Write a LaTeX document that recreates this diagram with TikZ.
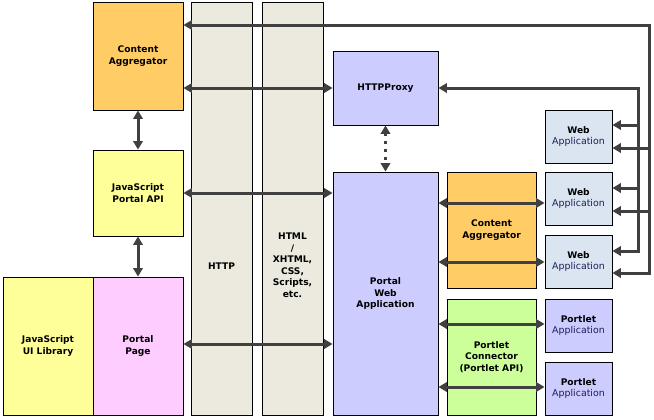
\documentclass[tikz,border=0pt]{standalone}
\usepackage{fontspec}
\setmainfont{DejaVu Sans}
\usetikzlibrary{arrows.meta}
\definecolor{caor}{HTML}{FFCC66}
\definecolor{jsyel}{HTML}{FFFF99}
\definecolor{pgpink}{HTML}{FFCCFF}
\definecolor{colbg}{HTML}{ECE9DF}
\definecolor{lav}{HTML}{CCCCFF}
\definecolor{webbg}{HTML}{DBE5F1}
\definecolor{pcgreen}{HTML}{CCFF99}
\definecolor{arrowgray}{HTML}{404040}
\definecolor{appblue}{HTML}{1E1E5A}
\newcommand{\appfont}{\fontsize{9.4bp}{11.5bp}\selectfont\mdseries\color{appblue}}
\begin{document}
\begin{tikzpicture}[x=1bp,y=-1bp,
  box/.style={draw=black, line width=0.9bp, inner sep=0pt, align=center,
    font=\fontsize{9.1bp}{11.8bp}\selectfont\bfseries},
  lbl/.style={inner sep=0pt, align=center, font=\fontsize{9.1bp}{11.5bp}\selectfont\bfseries},
  conn/.style={draw=arrowgray, line width=3bp},
  tip/.style={-{Triangle[length=8.5bp,width=9.5bp]}},
  both/.style={{Triangle[length=8.5bp,width=9.5bp]}-{Triangle[length=8.5bp,width=9.5bp]}},
  dots/.style={dash pattern=on 3bp off 5bp},
  app/.style={box, fill=webbg, minimum width=67bp, minimum height=53bp},
  papp/.style={box, fill=lav, minimum width=67bp, minimum height=53bp},
]
\useasboundingbox (0,0) rectangle (654,419);

% columns
\node[box, fill=colbg, minimum width=61bp, minimum height=413bp] (http) at (221.5,208.5) {};
\node[box, fill=colbg, minimum width=61bp, minimum height=413bp] (html) at (292.5,208.5) {};
\node[lbl] (httplbl) at (221.5,266) {HTTP};
\node[lbl] (htmllbl) at (292.5,265) {HTML\\/\\XHTML,\\CSS,\\Scripts,\\etc.};

% left boxes
\node[box, fill=caor, minimum width=90bp, minimum height=108bp] (ca1) at (138,56) {Content\\Aggregator};
\node[box, fill=jsyel, minimum width=90bp, minimum height=86bp] (jsapi) at (138,193) {JavaScript\\Portal API};
\node[box, fill=jsyel, minimum width=90bp, minimum height=138bp] (jsui) at (48,346) {JavaScript\\UI Library};
\node[box, fill=pgpink, minimum width=90bp, minimum height=138bp] (page) at (138,346) {Portal\\Page};

% middle
\node[box, fill=lav, minimum width=105bp, minimum height=74bp] (proxy) at (385.5,88) {HTTPProxy};
\node[box, fill=lav, minimum width=105bp, minimum height=243bp] (pwa) at (385.5,293.5) {Portal\\Web\\Application};
\node[box, fill=caor, minimum width=89bp, minimum height=116bp] (ca2) at (491.5,230) {Content\\Aggregator};
\node[box, fill=pcgreen, minimum width=89bp, minimum height=116bp] (pc) at (491.5,357) {Portlet\\Connector\\(Portlet API)};

% right
\node[app] (web1) at (578.5,136.5) {Web\\{\appfont Application}};
\node[app] (web2) at (578.5,198.5) {Web\\{\appfont Application}};
\node[app] (web3) at (578.5,261.5) {Web\\{\appfont Application}};
\node[papp] (pa1) at (578.5,325.5) {Portlet\\{\appfont Application}};
\node[papp] (pa2) at (578.5,388.5) {Portlet\\{\appfont Application}};

% routing coordinates
\coordinate (tr) at (649,25);
\coordinate (br) at (649,273);
\coordinate (w1b) at (649,148);
\coordinate (w2b) at (649,211);
\coordinate (pr) at (638,88);
\coordinate (pb) at (638,251);
\coordinate (w1a) at (638,125);
\coordinate (w2a) at (638,188);

% connectors
\draw[conn, both] (ca1.east |- tr) -- (tr) -- (br) -- (web3.east |- br);
\draw[conn, tip] (w1b) -- (web1.east |- w1b);
\draw[conn, tip] (w2b) -- (web2.east |- w2b);
\draw[conn, both] (proxy.east) -- (pr) -- (pb) -- (web3.east |- pb);
\draw[conn, tip] (w1a) -- (web1.east |- w1a);
\draw[conn, tip] (w2a) -- (web2.east |- w2a);

\draw[conn, both] (ca1.east |- proxy.west) -- (proxy.west);
\draw[conn, both] (jsapi.east) -- (jsapi.east -| pwa.west);
\draw[conn, both] (page.east |- 0,344) -- (pwa.west |- 0,344);
\draw[conn, both] (ca1.south) -- (jsapi.north);
\draw[conn, both] (jsapi.south) -- (page.north);
\draw[conn, both, dots] (proxy.south) -- (pwa.north);

\draw[conn, both] (pwa.east |- 0,203) -- (web2.west |- 0,203);
\draw[conn, both] (pwa.east |- 0,262) -- (web3.west |- 0,262);
\draw[conn, both] (pwa.east |- 0,324) -- (pa1.west |- 0,324);
\draw[conn, both] (pwa.east |- 0,387) -- (pa2.west |- 0,387);
\end{tikzpicture}
\end{document}
